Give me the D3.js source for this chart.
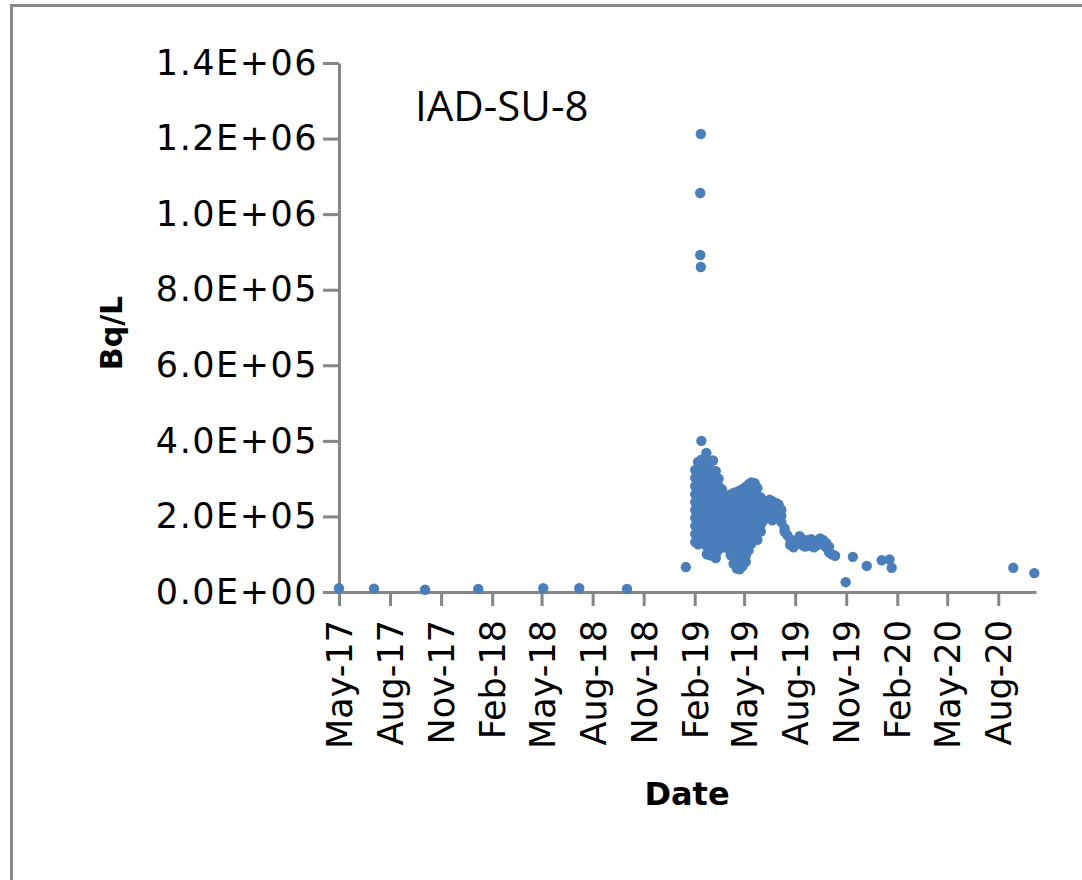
<!DOCTYPE html>
<html><head><meta charset="utf-8">
<script src="https://cdn.jsdelivr.net/npm/d3@7"></script>
<style>body{margin:0;background:#fff}svg{display:block}</style>
</head><body>
<script>
const chartTitle = "IAD-SU-8";
const yAxisTitle = "Bq/L";
const xAxisTitle = "Date";

const yTickValues = [0, 2e5, 4e5, 6e5, 8e5, 1.0e6, 1.2e6, 1.4e6];
const yTickLabels = ["0.0E+00","2.0E+05","4.0E+05","6.0E+05","8.0E+05","1.0E+06","1.2E+06","1.4E+06"];
const xTickDates = ["2017-05-01","2017-08-01","2017-11-01","2018-02-01","2018-05-01","2018-08-01","2018-11-01","2019-02-01","2019-05-01","2019-08-01","2019-11-01","2020-02-01","2020-05-01","2020-08-01"];
const xTickLabels = ["May-17","Aug-17","Nov-17","Feb-18","May-18","Aug-18","Nov-18","Feb-19","May-19","Aug-19","Nov-19","Feb-20","May-20","Aug-20"];
const xDomain = ["2017-05-01","2020-10-08"];

// early monitoring (2017-2018)
const baselineDates = ["2017-05-01","2017-07-03","2017-10-03","2018-01-07","2018-05-04","2018-07-08","2018-10-02","2019-01-16"];
const baselineValues = [10e3, 9e3, 6e3, 8e3, 10e3, 10e3, 8e3, 66e3];

// spike in February 2019
const peakDates = ["2019-02-12","2019-02-11","2019-02-11","2019-02-12","2019-02-13","2019-02-22"];
const peakValues = [1212e3, 1056e3, 892e3, 860e3, 400e3, 368e3];

// dense sampling period (several readings per date group)
const clusterDates = ["2019-02-02","2019-02-07","2019-02-13","2019-02-18","2019-02-23","2019-02-28","2019-03-06","2019-03-11","2019-03-16","2019-03-22","2019-03-27","2019-04-01","2019-04-07","2019-04-12","2019-04-18","2019-04-23","2019-04-28","2019-05-04","2019-05-09","2019-05-14","2019-05-20","2019-05-25","2019-05-31","2019-06-05","2019-06-11","2019-06-16","2019-06-21","2019-06-27","2019-07-02","2019-07-07","2019-07-13","2019-07-18","2019-07-23","2019-07-29","2019-08-03","2019-08-09","2019-08-14","2019-08-19","2019-08-25","2019-08-30","2019-09-04","2019-09-10","2019-09-15","2019-09-20","2019-09-26","2019-10-01","2019-10-06","2019-10-12"];
const clusterValues = [
  [323e3,302e3,280e3,259e3,238e3,217e3,196e3,175e3,153e3,132e3],
  [344e3,322e3,300e3,278e3,256e3,234e3,212e3,190e3,168e3,146e3,126e3],
  [350e3,328e3,306e3,284e3,262e3,240e3,218e3,196e3,174e3,152e3,138e3],
  [345e3,325e3,302e3,280e3,258e3,236e3,214e3,192e3,170e3,150e3,128e3],
  [342e3,318e3,296e3,274e3,252e3,230e3,208e3,186e3,164e3,142e3,120e3,100e3],
  [345e3,322e3,300e3,278e3,256e3,234e3,212e3,190e3,168e3,146e3,124e3,98e3],
  [348e3,320e3,296e3,272e3,250e3,228e3,206e3,184e3,162e3,140e3,118e3,95e3],
  [320e3,300e3,278e3,256e3,234e3,212e3,190e3,168e3,146e3,124e3,102e3,90e3],
  [300e3,280e3,258e3,236e3,214e3,192e3,170e3,150e3,130e3,112e3],
  [272e3,252e3,232e3,212e3,192e3,172e3,152e3,132e3,120e3],
  [255e3,236e3,216e3,196e3,176e3,156e3,136e3,118e3],
  [254e3,234e3,214e3,194e3,174e3,154e3,134e3,116e3],
  [258e3,238e3,218e3,198e3,178e3,158e3,138e3,118e3,98e3],
  [262e3,240e3,220e3,200e3,180e3,160e3,140e3,120e3,100e3,75e3],
  [265e3,245e3,225e3,205e3,185e3,165e3,145e3,125e3,105e3,85e3,62e3],
  [268e3,248e3,228e3,208e3,188e3,168e3,148e3,128e3,108e3,88e3,60e3],
  [272e3,252e3,232e3,212e3,192e3,172e3,152e3,132e3,112e3,90e3,68e3],
  [278e3,258e3,238e3,218e3,198e3,178e3,158e3,138e3,118e3,95e3,80e3],
  [285e3,264e3,242e3,222e3,202e3,182e3,162e3,142e3,122e3,110e3],
  [290e3,268e3,246e3,226e3,206e3,186e3,166e3,146e3,128e3],
  [288e3,266e3,245e3,225e3,205e3,185e3,165e3,145e3],
  [275e3,255e3,235e3,215e3,195e3,175e3,155e3,138e3],
  [250e3,232e3,214e3,196e3,178e3,160e3],
  [238e3,222e3,206e3,190e3],
  [240e3,224e3,208e3,196e3],
  [244e3,226e3,210e3,195e3],
  [240e3,222e3,206e3,190e3],
  [236e3,218e3,200e3],
  [232e3,214e3,198e3],
  [218e3,202e3,185e3],
  [168e3,160e3],
  [150e3],
  [125e3,140e3],
  [118e3,132e3],
  [128e3],
  [148e3,130e3],
  [140e3,124e3],
  [135e3,120e3],
  [138e3,122e3],
  [140e3,125e3],
  [132e3,118e3],
  [136e3,124e3],
  [142e3,128e3],
  [138e3,126e3],
  [130e3,118e3],
  [120e3,105e3],
  [100e3],
  [96e3]
];

// late readings
const tailDates = ["2019-10-31","2019-11-13","2019-12-08","2020-01-04","2020-01-18","2020-01-22","2020-08-28","2020-10-05"];
const tailValues = [26e3, 93e3, 69e3, 84e3, 86e3, 64e3, 64e3, 50e3];

const W = 1082, H = 880;
const parse = d3.utcParse("%Y-%m-%d");
const svg = d3.select("body").append("svg").attr("width", W).attr("height", H);

// outer frame
svg.append("rect").attr("x", 11.5).attr("y", 5.5).attr("width", W + 20).attr("height", H + 20)
  .attr("fill", "#fff").attr("stroke", "#888").attr("stroke-width", 3);

const x = d3.scaleUtc().domain(xDomain.map(parse)).range([339, 1036]);
const y = d3.scaleLinear().domain([0, 1.4e6]).range([592, 63]);

const points = [];
baselineDates.forEach((d, i) => points.push([parse(d), baselineValues[i]]));
clusterDates.forEach((d, i) => clusterValues[i].forEach(v => points.push([parse(d), v])));
peakDates.forEach((d, i) => points.push([parse(d), peakValues[i]]));
tailDates.forEach((d, i) => points.push([parse(d), tailValues[i]]));

const axisColor = "#868686";
const tickFont = "'DejaVu Sans', Verdana, sans-serif";

// Y axis
const yAxis = svg.append("g").attr("transform", "translate(339,0)")
  .call(d3.axisLeft(y).tickValues(yTickValues).tickSize(16).tickSizeOuter(0).tickPadding(5)
    .tickFormat((d, i) => yTickLabels[i]));
yAxis.select(".domain").attr("stroke", axisColor).attr("stroke-width", 3);
yAxis.selectAll(".tick line").attr("stroke", axisColor).attr("stroke-width", 3);
yAxis.selectAll(".tick text").attr("font-family", tickFont).attr("font-size", 35)
  .attr("letter-spacing", 1.5).attr("fill", "#000");

// X axis
const xAxis = svg.append("g").attr("transform", "translate(0,592)")
  .call(d3.axisBottom(x).tickValues(xTickDates.map(parse)).tickSize(14).tickSizeOuter(0)
    .tickFormat((d, i) => xTickLabels[i]));
xAxis.select(".domain").attr("stroke", axisColor).attr("stroke-width", 3);
xAxis.selectAll(".tick line").attr("stroke", axisColor).attr("stroke-width", 3);
xAxis.selectAll(".tick text")
  .attr("font-family", tickFont).attr("font-size", 35).attr("fill", "#000")
  .attr("transform", "rotate(-90)").attr("text-anchor", "end")
  .attr("x", -28).attr("y", 0).attr("dy", "0.36em");

// points
svg.append("g").selectAll("circle").data(points).join("circle")
  .attr("cx", d => x(d[0])).attr("cy", d => y(d[1])).attr("r", 5.2)
  .attr("fill", "#4A7EBB");

// titles
svg.append("text").attr("x", 415).attr("y", 121).text(chartTitle)
  .attr("font-family", "'Open Sans', sans-serif").attr("font-size", 42).attr("fill", "#000");
svg.append("text").attr("transform", "translate(122,333) rotate(-90)").attr("text-anchor", "middle")
  .text(yAxisTitle).attr("font-family", tickFont).attr("font-weight", "bold").attr("font-size", 30).attr("fill", "#000");
svg.append("text").attr("x", 687).attr("y", 805).attr("text-anchor", "middle")
  .text(xAxisTitle).attr("font-family", tickFont).attr("font-weight", "bold").attr("font-size", 32).attr("fill", "#000");
</script>
</body></html>
